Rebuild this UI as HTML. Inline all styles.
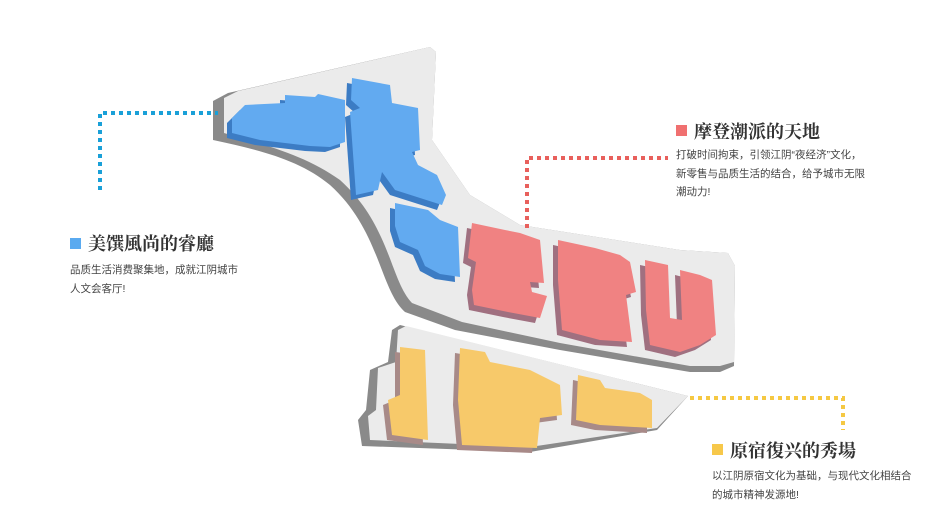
<!DOCTYPE html>
<html><head><meta charset="utf-8"><style>
body{margin:0;width:945px;height:532px;background:#fff;overflow:hidden;position:relative;font-family:"Liberation Sans","Noto Sans CJK SC",sans-serif}
svg{position:absolute;left:0;top:0}
.t{position:absolute;font-family:"Liberation Serif","Noto Serif CJK SC",serif;font-size:18px;font-weight:bold;color:#333;white-space:nowrap}
.b{position:absolute;font-size:10.5px;line-height:18.5px;color:#444;white-space:nowrap}
.sq{position:absolute;width:11px;height:11px}
</style></head><body>
<svg width="945" height="532" viewBox="0 0 945 532">
<path d="M213,101 L228,93 L430,47 L436,52 L432,140 L470,195 L520,225 L680,250 L728,253 L735,266 L734,366 L720,372 L690,372 L560,350 L455,330 L405,312 C380,290 380,230 330,185 C300,160 260,150 213,140 Z" fill="#8a8a8a"/>
<path d="M224,98 L238,91 L430,47 L436,52 L432,140 L470,195 L520,225 L680,250 L728,253 L735,266 L734,362 L720,366 L690,366 L560,343 L462,322 L412,303 C390,280 390,225 340,180 C305,155 265,145 224,133 Z" fill="#ebebeb"/>
<path d="M370,370 L388,362 L392,330 L400,325 L688,396 L657,430 L530,452 L362,446 L358,420 L366,410 Z" fill="#8a8a8a"/>
<path d="M378,368 L396,362 L398,330 L406,326 L688,396 L657,428 L530,447 L370,440 L368,416 L376,410 Z" fill="#ebebeb"/>
<path d="M100,190 L100,113 L218,113" fill="none" stroke="#1aa0d8" stroke-width="4" stroke-dasharray="4 4"/>
<path d="M527,228 L527,158 L668,158" fill="none" stroke="#e8605c" stroke-width="4" stroke-dasharray="4 4"/>
<path d="M690,398 L843,398 L843,430" fill="none" stroke="#f5c842" stroke-width="4" stroke-dasharray="4 4"/>
<g fill="#3c7cc4" transform="translate(-5,5)">
<path d="M232,118 L245,105 L285,103 L285,95 L315,97 L318,94 L345,100 L345,142 L330,147 L310,146 L260,140 L232,133 Z"/>
<path d="M352,78 L390,85 L392,103 L418,108 L420,150 L412,152 L418,165 L437,175 L446,195 L442,205 L395,190 L382,172 L378,190 L356,195 L350,112 L360,108 L351,100 Z"/>
<path d="M395,203 L428,210 L440,220 L458,227 L460,277 L440,274 L425,266 L418,250 L400,242 L395,226 Z"/>
</g>
<g fill="#62aaf0">
<path d="M232,118 L245,105 L285,103 L285,95 L315,97 L318,94 L345,100 L345,142 L330,147 L310,146 L260,140 L232,133 Z"/>
<path d="M352,78 L390,85 L392,103 L418,108 L420,150 L412,152 L418,165 L437,175 L446,195 L442,205 L395,190 L382,172 L378,190 L356,195 L350,112 L360,108 L351,100 Z"/>
<path d="M395,203 L428,210 L440,220 L458,227 L460,277 L440,274 L425,266 L418,250 L400,242 L395,226 Z"/>
</g>
<g fill="#a07080" transform="translate(-5,5)">
<path d="M472,223 L505,230 L520,233 L540,240 L544,283 L530,282 L532,292 L547,296 L540,318 L508,312 L474,305 L472,290 L476,262 L468,258 Z"/>
<path d="M558,240 L595,248 L620,255 L630,262 L636,292 L626,295 L632,342 L600,340 L562,330 L558,280 Z"/>
<path d="M645,260 L668,265 L670,318 L682,320 L680,270 L700,275 L712,280 L716,335 L700,345 L680,352 L650,345 L646,310 Z"/>
</g>
<g fill="#f08282">
<path d="M472,223 L505,230 L520,233 L540,240 L544,283 L530,282 L532,292 L547,296 L540,318 L508,312 L474,305 L472,290 L476,262 L468,258 Z"/>
<path d="M558,240 L595,248 L620,255 L630,262 L636,292 L626,295 L632,342 L600,340 L562,330 L558,280 Z"/>
<path d="M645,260 L668,265 L670,318 L682,320 L680,270 L700,275 L712,280 L716,335 L700,345 L680,352 L650,345 L646,310 Z"/>
</g>
<g fill="#a88a88" transform="translate(-5,5)">
<path d="M400,347 L425,350 L428,440 L392,435 L388,400 L400,395 Z"/>
<path d="M460,348 L485,352 L490,362 L530,370 L560,385 L562,415 L540,418 L537,448 L462,445 L458,400 Z"/>
<path d="M578,375 L600,380 L605,388 L640,393 L652,400 L652,428 L600,425 L576,420 Z"/>
</g>
<g fill="#f7c96a">
<path d="M400,347 L425,350 L428,440 L392,435 L388,400 L400,395 Z"/>
<path d="M460,348 L485,352 L490,362 L530,370 L560,385 L562,415 L540,418 L537,448 L462,445 L458,400 Z"/>
<path d="M578,375 L600,380 L605,388 L640,393 L652,400 L652,428 L600,425 L576,420 Z"/>
</g>
</svg>
<div class="sq" style="left:70px;top:238px;background:#5aaaf0"></div>
<div class="t" style="left:88px;top:230px">美馔風尚的睿廳</div>
<div class="b" style="left:70px;top:261px">品质生活消费聚集地，成就江阴城市<br>人文会客厅!</div>
<div class="sq" style="left:676px;top:125px;background:#f07070"></div>
<div class="t" style="left:694px;top:118px">摩登潮派的天地</div>
<div class="b" style="left:676px;top:146px">打破时间拘束，引领江阴“夜经济”文化，<br>新零售与品质生活的结合，给予城市无限<br>潮动力!</div>
<div class="sq" style="left:712px;top:444px;background:#f7c84a"></div>
<div class="t" style="left:730px;top:437px">原宿復兴的秀場</div>
<div class="b" style="left:712px;top:467px">以江阴原宿文化为基础，与现代文化相结合<br>的城市精神发源地!</div>
</body></html>
